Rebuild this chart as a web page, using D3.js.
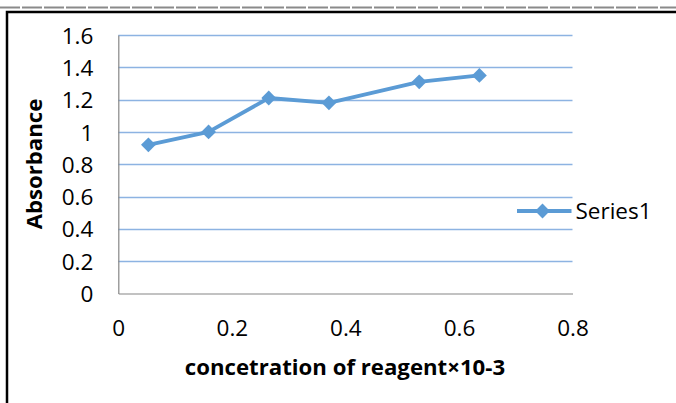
<!DOCTYPE html>
<html>
<head>
<meta charset="utf-8">
<script src="https://cdn.jsdelivr.net/npm/d3@7"></script>
<style>
  html, body { margin: 0; padding: 0; background: #fff; }
  svg { display: block; }
  text { font-family: "Open Sans", "Noto Sans", sans-serif; fill: #000; }
</style>
</head>
<body>
<svg id="chart" width="676" height="403"></svg>
<script>
// Reagent concentration (×10^-3) and measured absorbance
const concentration = [0.053, 0.159, 0.265, 0.371, 0.53, 0.636];
const absorbance = [0.92, 1.0, 1.21, 1.18, 1.31, 1.35];
const xTicks = [0, 0.2, 0.4, 0.6, 0.8];
const yTicks = [0, 0.2, 0.4, 0.6, 0.8, 1, 1.2, 1.4, 1.6];
const seriesName = "Series1";
const xTitle = "concetration of reagent×10-3";
const yTitle = "Absorbance";

const svg = d3.select("#chart");
const W = 676, H = 403;
const plot = { left: 118.3, right: 572.5, top: 35, bottom: 293.5 };
const blue = "#5B9BD5";
const tickFont = "22.5px";
const titleFont = "22.2px";

// Frame: dashed rule at the very top, then the heavy black border
svg.append("line")
  .attr("x1", 0).attr("x2", W).attr("y1", 7.5).attr("y2", 7.5)
  .attr("stroke", "#8a8a8a").attr("stroke-width", 2)
  .attr("stroke-dasharray", "20,2");
svg.append("path")
  .attr("d", `M7,${H + 5} V12 H${W + 5}`)
  .attr("fill", "none").attr("stroke", "#000").attr("stroke-width", 2.5);

const x = d3.scaleLinear().domain([0, 0.8]).range([plot.left, plot.right]);
const y = d3.scaleLinear().domain([0, 1.6]).range([plot.bottom, plot.top]);

// Horizontal gridlines
svg.append("g")
  .selectAll("line")
  .data(yTicks.filter(d => d > 0))
  .join("line")
  .attr("x1", plot.left).attr("x2", plot.right)
  .attr("y1", d => Math.round(y(d)) + 0.5).attr("y2", d => Math.round(y(d)) + 0.5)
  .attr("stroke", "#8DB3E2").attr("stroke-width", 1.3);

// Y axis
const yAxis = svg.append("g")
  .attr("transform", `translate(${plot.left},0)`)
  .call(d3.axisLeft(y).tickValues(yTicks).tickSize(0).tickPadding(25)
    .tickFormat(d => d3.format("")(d)));
yAxis.select(".domain").attr("stroke", "#868686").attr("stroke-width", 1.2);
yAxis.selectAll("text")
  .style("font-family", "'Open Sans', sans-serif").style("font-size", tickFont)
  .attr("dy", "0.36em").attr("fill", "#000");

// X axis
const xAxis = svg.append("g")
  .attr("transform", `translate(0,${plot.bottom})`)
  .call(d3.axisBottom(x).tickValues(xTicks).tickSize(0)
    .tickFormat(d => d3.format("")(d)));
xAxis.select(".domain").attr("stroke", "#868686").attr("stroke-width", 1.2);
xAxis.selectAll("text")
  .style("font-family", "'Open Sans', sans-serif").style("font-size", tickFont)
  .attr("y", 42).attr("dy", 0)
  .attr("fill", "#000");

// Axis titles
svg.append("text")
  .attr("transform", `translate(42,164) rotate(-90)`)
  .attr("text-anchor", "middle")
  .style("font-weight", "bold").style("font-size", titleFont)
  .text(yTitle);
svg.append("text")
  .attr("x", 345).attr("y", 375)
  .attr("text-anchor", "middle")
  .style("font-weight", "bold").style("font-size", titleFont)
  .text(xTitle);

// Series line and diamond markers
const pts = concentration.map((c, i) => [c, absorbance[i]]);
svg.append("path")
  .datum(pts)
  .attr("fill", "none").attr("stroke", blue).attr("stroke-width", 3.8)
  .attr("stroke-linejoin", "round")
  .attr("d", d3.line().x(d => x(d[0])).y(d => y(d[1])));

const diamond = d3.symbol().type(d3.symbolDiamond2).size(140);
svg.append("g")
  .selectAll("path")
  .data(pts)
  .join("path")
  .attr("transform", d => `translate(${x(d[0])},${y(d[1])})`)
  .attr("d", diamond)
  .attr("fill", blue);

// Legend
const ly = 211;
svg.append("line")
  .attr("x1", 517).attr("x2", 571.5).attr("y1", ly).attr("y2", ly)
  .attr("stroke", blue).attr("stroke-width", 3.8);
svg.append("path")
  .attr("transform", `translate(542.5,${ly})`)
  .attr("d", diamond).attr("fill", blue);
svg.append("text")
  .attr("x", 575.5).attr("y", ly + 8)
  .style("font-size", tickFont)
  .text(seriesName);
</script>
</body>
</html>
